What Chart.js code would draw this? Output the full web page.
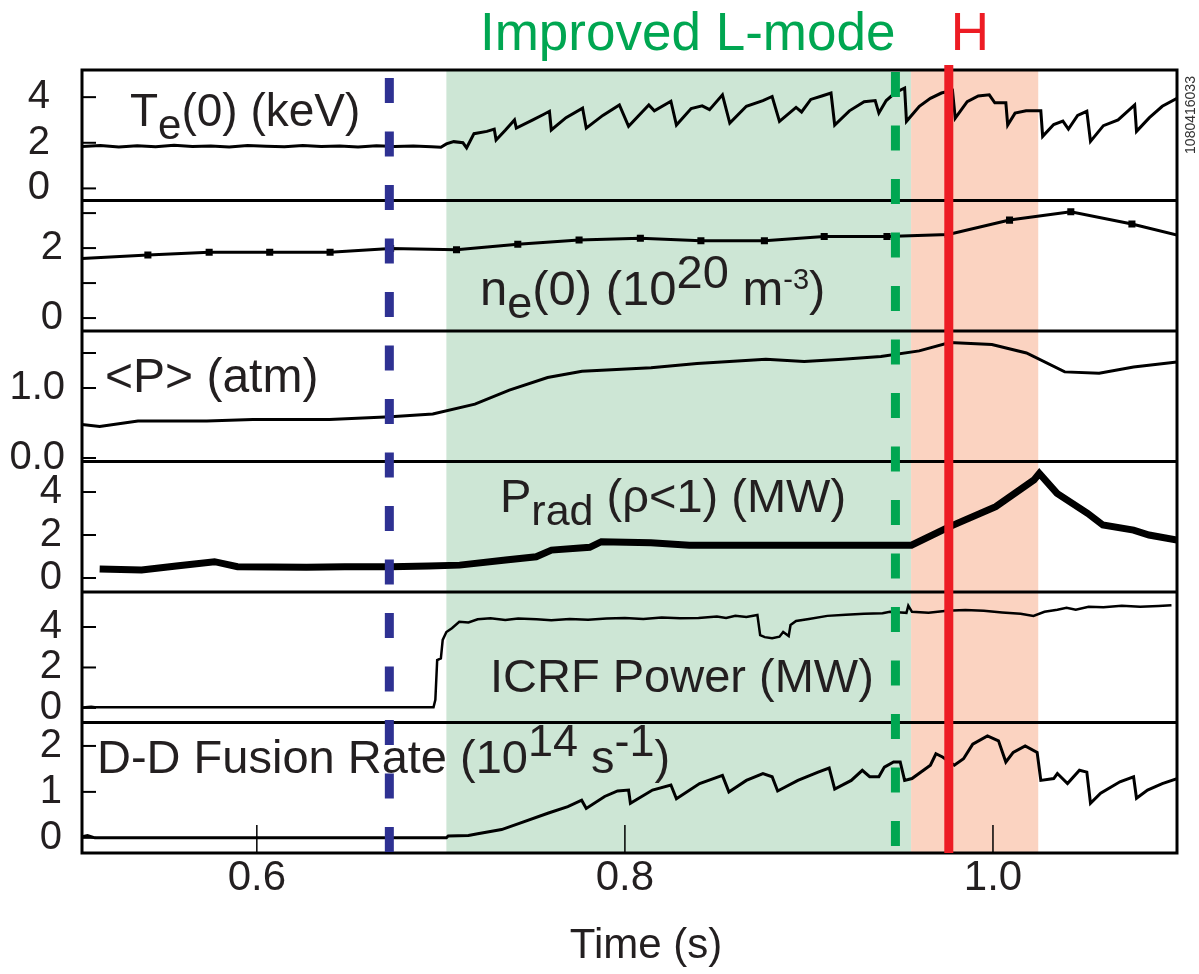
<!DOCTYPE html>
<html>
<head>
<meta charset="utf-8">
<title>Shot 1080416033</title>
<script src="https://cdn.jsdelivr.net/npm/chart.js@4.4.1/dist/chart.umd.min.js"></script>
<style>
  html, body { margin: 0; padding: 0; background: #fff; }
  #wrap { position: relative; width: 1199px; height: 974px; }
</style>
</head>
<body>
<div id="wrap"><canvas id="shotChart" width="1199" height="974"></canvas></div>
<script>
// time base (s)
const timeTicks = [0.6, 0.8, 1.0];

// phase markers (s)
const lmodeMark = 0.672;          // blue dashed
const improvedStart = 0.703;      // green band starts
const improvedMark = 0.947;       // green dashed
const hStart = 0.9555;            // orange band
const hEnd = 1.0246;
const hMark = 0.976;              // red line

// central electron temperature, keV
const teData = [
  [0.505,1.84],[0.515,1.88],[0.525,1.82],[0.535,1.87],[0.545,1.83],[0.555,1.89],[0.565,1.84],
  [0.575,1.86],[0.585,1.82],[0.595,1.88],[0.605,1.85],[0.615,1.83],[0.625,1.88],[0.635,1.84],
  [0.645,1.86],[0.655,1.82],[0.665,1.87],[0.675,1.84],[0.685,1.86],[0.695,1.83],[0.700,1.80],
  [0.703,1.95],[0.707,2.05],[0.712,2.00],[0.714,1.78],[0.718,2.40],[0.725,2.50],[0.729,2.60],
  [0.730,2.12],[0.735,2.55],[0.740,3.00],[0.741,2.64],[0.750,3.00],[0.756,3.25],[0.759,3.38],
  [0.760,2.56],[0.768,3.10],[0.777,3.52],[0.779,2.64],[0.788,3.20],[0.797,3.66],[0.802,2.72],
  [0.810,3.40],[0.813,3.66],[0.816,3.40],[0.825,3.82],[0.828,2.78],[0.836,3.50],[0.842,3.62],
  [0.846,3.45],[0.853,4.10],[0.857,2.86],[0.866,3.60],[0.875,3.85],[0.880,4.03],[0.884,2.94],
  [0.893,3.55],[0.896,3.35],[0.901,3.90],[0.907,4.05],[0.912,4.18],[0.914,2.78],[0.922,3.40],
  [0.930,3.80],[0.936,3.85],[0.938,3.30],[0.942,3.85],[0.947,4.20],[0.952,4.40],[0.953,2.94],
  [0.960,3.60],[0.966,3.95],[0.972,4.18],[0.978,4.30],[0.9795,3.08],[0.986,3.80],[0.992,4.05],
  [0.998,4.10],[1.001,3.75],[1.007,3.75],[1.008,2.78],[1.012,3.30],[1.018,3.40],[1.026,3.40],
  [1.027,2.28],[1.033,2.80],[1.038,2.95],[1.041,2.60],[1.046,3.20],[1.051,3.38],[1.053,2.06],
  [1.060,2.75],[1.068,3.00],[1.077,3.66],[1.078,2.50],[1.085,3.10],[1.092,3.60],[1.100,3.95]
];

// central density, 1e20 m^-3 (Thomson points)
const neData = [
  [0.505,1.70],[0.5408,1.80],[0.5741,1.88],[0.607,1.88],[0.6398,1.88],[0.6727,1.99],
  [0.7085,1.95],[0.7418,2.11],[0.7751,2.23],[0.8084,2.28],[0.8413,2.21],[0.8758,2.21],
  [0.9083,2.33],[0.9424,2.33],[0.9757,2.39],[1.009,2.80],[1.0423,3.04],[1.0755,2.69],[1.100,2.37]
];

// volume averaged pressure, atm
const pData = [
  [0.505,0.48],[0.5146,0.45],[0.5354,0.53],[0.5728,0.53],[0.5978,0.55],[0.6394,0.55],
  [0.6727,0.59],[0.6956,0.63],[0.7185,0.77],[0.7372,0.97],[0.758,1.15],[0.7767,1.24],
  [0.8142,1.29],[0.8392,1.35],[0.8766,1.41],[0.8974,1.38],[0.9183,1.41],[0.9391,1.45],
  [0.9599,1.53],[0.9765,1.65],[0.9994,1.62],[1.0182,1.50],[1.039,1.23],[1.0577,1.21],
  [1.0764,1.30],[1.100,1.37]
];

// radiated power inside the LCFS, MW
const pradData = [
  [0.5146,0.42],[0.5374,0.37],[0.5562,0.56],[0.577,0.76],[0.5895,0.53],[0.627,0.50],
  [0.6478,0.53],[0.6727,0.53],[0.6935,0.56],[0.7102,0.60],[0.7352,0.84],[0.7518,0.99],
  [0.7601,1.30],[0.7809,1.43],[0.7872,1.69],[0.8142,1.64],[0.835,1.53],[0.8766,1.53],
  [0.9183,1.53],[0.9557,1.53],[0.9765,2.39],[1.0015,3.32],[1.0223,4.56],[1.0252,4.87],
  [1.0348,3.94],[1.0514,3.01],[1.0597,2.47],[1.0764,2.23],[1.0848,2.00],[1.100,1.77]
];

// ICRF power, MW
const icrfData = [
  [0.505,0.02],[0.510,0.06],[0.512,0.03],[0.600,0.03],[0.696,0.03],[0.697,0.40],[0.698,2.37],
  [0.700,2.45],[0.701,3.36],[0.703,3.75],[0.706,3.94],[0.710,4.26],[0.715,4.22],[0.720,4.38],
  [0.727,4.43],[0.735,4.35],[0.742,4.42],[0.752,4.38],[0.760,4.33],[0.770,4.40],[0.780,4.36],
  [0.790,4.42],[0.800,4.45],[0.810,4.40],[0.820,4.47],[0.830,4.43],[0.840,4.45],[0.850,4.52],
  [0.855,4.45],[0.860,4.55],[0.866,4.50],[0.872,4.59],[0.8735,3.60],[0.876,3.50],[0.880,3.45],
  [0.884,3.52],[0.886,3.75],[0.889,3.55],[0.890,4.10],[0.893,4.30],[0.900,4.40],[0.910,4.55],
  [0.920,4.60],[0.930,4.65],[0.940,4.68],[0.944,4.75],[0.950,4.72],[0.953,4.70],[0.954,5.05],
  [0.956,4.75],[0.965,4.70],[0.975,4.80],[0.985,4.84],[0.995,4.80],[1.005,4.72],[1.015,4.65],
  [1.022,4.55],[1.028,4.75],[1.035,4.85],[1.040,4.95],[1.045,4.85],[1.052,5.00],[1.060,4.98],
  [1.070,5.05],[1.080,5.00],[1.090,5.04],[1.097,5.08]
];

// D-D neutron rate, 1e14 /s
const fusionData = [
  [0.505,0.02],[0.508,0.05],[0.512,0.00],[0.703,0.00],[0.704,0.04],[0.715,0.05],[0.720,0.09],
  [0.733,0.18],[0.743,0.32],[0.7585,0.54],[0.769,0.68],[0.7765,0.82],[0.779,0.64],[0.789,0.90],
  [0.796,1.02],[0.802,1.04],[0.803,0.75],[0.815,1.04],[0.825,1.15],[0.828,0.85],[0.8406,1.18],
  [0.853,1.36],[0.8565,1.00],[0.866,1.25],[0.875,1.40],[0.880,1.33],[0.883,1.02],[0.894,1.25],
  [0.905,1.43],[0.911,1.52],[0.914,1.06],[0.923,1.25],[0.929,1.47],[0.933,1.33],[0.938,1.33],
  [0.941,1.54],[0.946,1.65],[0.9496,1.65],[0.952,1.25],[0.956,1.29],[0.966,1.58],[0.969,1.83],
  [0.9726,1.76],[0.979,1.58],[0.984,1.72],[0.989,2.04],[0.997,2.22],[1.003,2.11],[1.007,1.65],
  [1.011,1.86],[1.0175,2.00],[1.024,1.86],[1.026,1.25],[1.033,1.29],[1.035,1.40],[1.0405,1.18],
  [1.047,1.47],[1.051,1.43],[1.053,0.75],[1.0585,0.97],[1.069,1.22],[1.0764,1.33],[1.078,0.86],
  [1.084,1.04],[1.092,1.18],[1.100,1.29]
];

// y tick values and their labels, one set per panel
const teTicks = [0, 2, 4];
const teTickLabels = ['0', '2', '4'];
const neTicks = [0, 1, 2, 3];
const neTickLabels = ['0', '', '2', ''];
const pTicks = [0, 1.0, 1.5];
const pTickLabels = ['0.0', '1.0', ''];
const pradTicks = [0, 2, 4];
const pradTickLabels = ['0', '2', '4'];
const icrfTicks = [0, 2, 4];
const icrfTickLabels = ['0', '2', '4'];
const fusionTicks = [0, 1, 2];
const fusionTickLabels = ['0', '1', '2'];

const family = '"Liberation Sans", Arial, Helvetica, sans-serif';
const ink = '#231f20';

// panel captions: [text, kind]; kind = sub / sup / supSmall
const panelLabels = [
  { x: 130, y: 126, size: 46, parts: [['T'], ['e', 'sub'], ['(0) (keV)']] },
  { x: 480, y: 305, size: 49, parts: [['n'], ['e', 'sub'], ['(0) (10'], ['20', 'sup'], [' m'], ['-3', 'supSmall'], [')']] },
  { x: 105, y: 392, size: 48, parts: [['<P> (atm)']] },
  { x: 500, y: 512, size: 47, parts: [['P'], ['rad', 'sub'], [' (ρ<1) (MW)']] },
  { x: 490, y: 692, size: 47, parts: [['ICRF Power (MW)']] },
  { x: 97, y: 773, size: 47, parts: [['D-D Fusion Rate (10'], ['14', 'sup'], [' s'], ['-1', 'sup'], [')']] }
];

const toXY = pts => pts.map(([x, y]) => ({ x, y }));

function panelAxis(order, min, max, ticks, labels, pad) {
  return {
    type: 'linear', position: 'left', stack: 'shot', stackWeight: 1, weight: order,
    min, max,
    grid: { display: false, drawTicks: false },
    border: { display: false },
    afterBuildTicks: axis => { axis.ticks = ticks.map(v => ({ value: v })); },
    afterFit: axis => { axis.width = 82; },
    ticks: {
      autoSkip: false, padding: pad, color: ink,
      font: { family, size: 40 },
      callback: (v, i) => labels[i]
    }
  };
}

function trace(axis, pts, width, extra) {
  return Object.assign({
    data: toXY(pts), yAxisID: axis, borderColor: '#000', backgroundColor: '#000',
    borderWidth: width, pointRadius: 0, tension: 0, fill: false
  }, extra || {});
}

function drawRich(ctx, label) {
  let x = label.x;
  ctx.textAlign = 'left';
  ctx.textBaseline = 'alphabetic';
  for (const [text, kind] of label.parts) {
    let scale = 1, shift = 0;
    if (kind === 'sub') { scale = 0.92; shift = 13; }
    if (kind === 'sup') { scale = 0.95; shift = -17; }
    if (kind === 'supSmall') { scale = 0.6; shift = -16; }
    ctx.font = Math.round(label.size * scale) + 'px ' + family;
    ctx.fillText(text, x, label.y + shift);
    x += ctx.measureText(text).width;
  }
}

function vline(ctx, px, top, bottom, color, dash) {
  ctx.save();
  ctx.strokeStyle = color;
  ctx.lineWidth = 9;
  ctx.setLineDash(dash);
  ctx.beginPath();
  ctx.moveTo(px, top);
  ctx.lineTo(px, bottom);
  ctx.stroke();
  ctx.restore();
}

const shotDecor = {
  id: 'shotDecor',
  beforeDatasetsDraw(chart) {
    const { ctx, chartArea: a, scales } = chart;
    const x = scales.x;
    const x0 = x.getPixelForValue(improvedStart);
    const x1 = x.getPixelForValue(hStart);
    const x2 = x.getPixelForValue(hEnd);
    ctx.save();
    ctx.fillStyle = '#cde6d5';
    ctx.fillRect(x0, a.top, x1 - x0, a.height);
    ctx.fillStyle = '#fbd3c1';
    ctx.fillRect(x1, a.top, x2 - x1, a.height);
    ctx.restore();
  },
  afterDatasetsDraw(chart) {
    const { ctx, chartArea: a, scales } = chart;
    const x = scales.x;
    const panels = Object.values(scales).filter(s => s.axis === 'y');

    ctx.save();
    ctx.strokeStyle = '#000';
    // panel separators and inner y ticks
    for (const s of panels) {
      if (s.top > a.top + 2) {
        ctx.lineWidth = 3;
        ctx.beginPath();
        ctx.moveTo(a.left, s.top);
        ctx.lineTo(a.right, s.top);
        ctx.stroke();
      }
      ctx.lineWidth = 2;
      for (const t of s.ticks) {
        const py = s.getPixelForValue(t.value);
        ctx.beginPath();
        ctx.moveTo(a.left, py);
        ctx.lineTo(a.left + 14, py);
        ctx.stroke();
      }
    }
    // time ticks in the bottom panel
    ctx.lineWidth = 1.5;
    for (const t of x.ticks) {
      const px = x.getPixelForValue(t.value);
      ctx.beginPath();
      ctx.moveTo(px, a.bottom);
      ctx.lineTo(px, a.bottom - 28);
      ctx.stroke();
    }
    ctx.lineWidth = 3;
    ctx.strokeRect(a.left, a.top, a.width, a.height);
    ctx.restore();

    vline(ctx, x.getPixelForValue(lmodeMark), a.top + 8, a.bottom, '#2e3192', [25, 28.5]);
    vline(ctx, x.getPixelForValue(improvedMark), a.top + 2, a.bottom, '#00a651', [25, 28.5]);
    vline(ctx, x.getPixelForValue(hMark), a.top - 5, a.bottom, '#ed1c24', []);

    ctx.save();
    ctx.fillStyle = ink;
    for (const label of panelLabels) drawRich(ctx, label);

    // phase titles above the frame
    ctx.font = '53px ' + family;
    ctx.textBaseline = 'alphabetic';
    ctx.textAlign = 'left';
    ctx.fillStyle = '#00a651';
    ctx.fillText('Improved L-mode', 480, 50);
    ctx.textAlign = 'center';
    ctx.fillStyle = '#ed1c24';
    ctx.fillText('H', 970, 50);

    // axis title
    ctx.fillStyle = ink;
    ctx.font = '42px ' + family;
    ctx.fillText('Time (s)', 646, 958);

    // shot number along the right edge
    ctx.translate(1191, 115);
    ctx.rotate(-Math.PI / 2);
    ctx.font = '14px ' + family;
    ctx.textBaseline = 'middle';
    ctx.fillStyle = '#333';
    ctx.fillText('1080416033', 0, 0);
    ctx.restore();
  }
};

new Chart(document.getElementById('shotChart'), {
  type: 'line',
  data: {
    datasets: [
      trace('yTe', teData, 3),
      trace('yNe', neData, 3, {
        pointStyle: 'rect', pointRadius: ctx => (ctx.dataIndex === 0 || ctx.dataIndex === neData.length - 1) ? 0 : 5,
        pointBorderWidth: 0, pointBackgroundColor: '#000'
      }),
      trace('yP', pData, 3),
      trace('yPrad', pradData, 7),
      trace('yIcrf', icrfData, 2.5),
      trace('yFusion', fusionData, 3)
    ]
  },
  options: {
    responsive: false,
    animation: false,
    devicePixelRatio: 1,
    layout: { padding: { left: 0, top: 70, right: 22, bottom: 0 } },
    plugins: { legend: { display: false }, tooltip: { enabled: false } },
    scales: {
      x: {
        type: 'linear', position: 'bottom', min: 0.505, max: 1.1,
        grid: { display: false, drawTicks: false },
        border: { display: false },
        afterBuildTicks: axis => { axis.ticks = timeTicks.map(v => ({ value: v })); },
        afterFit: axis => { axis.height = 121; },
        ticks: {
          autoSkip: false, maxRotation: 0, padding: 0, color: ink,
          font: { family, size: 42 },
          callback: v => v.toFixed(1)
        }
      },
      yTe: panelAxis(6, -0.53, 5.19, teTicks, teTickLabels, 32),
      yNe: panelAxis(5, -0.37, 3.36, neTicks, neTickLabels, 19),
      yP: panelAxis(4, -0.05, 1.814, pTicks, pTickLabels, 17),
      yPrad: panelAxis(3, -0.65, 5.42, pradTicks, pradTickLabels, 20),
      yIcrf: panelAxis(2, -0.72, 5.73, icrfTicks, icrfTickLabels, 20),
      yFusion: panelAxis(1, -0.33, 2.51, fusionTicks, fusionTickLabels, 20)
    }
  },
  plugins: [shotDecor]
});
</script>
</body>
</html>
